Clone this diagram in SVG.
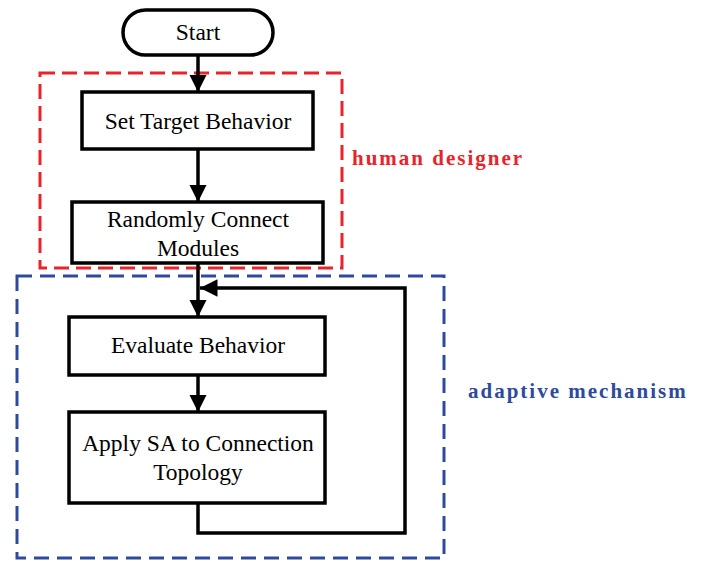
<svg xmlns="http://www.w3.org/2000/svg" width="707" height="562" viewBox="0 0 707 562">
<style>
.box{fill:#fff;stroke:#000;stroke-width:3.5}
.t{font-family:"Liberation Serif","Times New Roman",serif;font-size:23.5px;fill:#000;text-anchor:middle}
.lbl{font-family:"Liberation Serif","Times New Roman",serif;font-size:21px;font-weight:bold;letter-spacing:2px}
.edge{fill:none;stroke:#000;stroke-width:3.5}
</style>
<defs>
<marker id="ah" viewBox="0 0 10 10" refX="10" refY="5" markerWidth="5" markerHeight="5" markerUnits="strokeWidth" orient="auto">
<path d="M0,0 L10,5 L0,10 Z" fill="#000"/>
</marker>
</defs>
<rect width="707" height="562" fill="#fff"/>
<g id="group-human">
<rect x="40" y="73" width="302" height="195" fill="none" stroke="#e8232a" stroke-width="3" stroke-dasharray="15,7"/>
<text class="lbl" x="352" y="165" fill="#e8232a">human designer</text>
</g>
<g id="group-adaptive">
<rect x="17" y="276" width="427" height="282" fill="none" stroke="#2e4a9e" stroke-width="3" stroke-dasharray="15,8"/>
<text class="lbl" x="468" y="398" fill="#2e4a9e">adaptive mechanism</text>
</g>
<g id="connectors">
<line class="edge" x1="198" y1="55" x2="198" y2="92" marker-end="url(#ah)"/>
<line class="edge" x1="198" y1="149" x2="198" y2="202" marker-end="url(#ah)"/>
<line class="edge" x1="198" y1="263" x2="198" y2="317" marker-end="url(#ah)"/>
<line class="edge" x1="198" y1="375" x2="198" y2="412" marker-end="url(#ah)"/>
<polyline class="edge" points="198,503 198,533 405,533 405,288 200,288" marker-end="url(#ah)"/>
</g>
<g id="start">
<rect class="box" x="123" y="10" width="150" height="45" rx="22.5"/>
<text class="t" x="198" y="40">Start</text>
</g>
<g id="set-target">
<rect class="box" x="82" y="92" width="231" height="57"/>
<text class="t" x="198" y="129">Set Target Behavior</text>
</g>
<g id="randomly-connect">
<rect class="box" x="72" y="202" width="251" height="61"/>
<text class="t" x="198" y="227">Randomly Connect</text>
<text class="t" x="198" y="256">Modules</text>
</g>
<g id="evaluate">
<rect class="box" x="69" y="317" width="256" height="58"/>
<text class="t" x="198" y="353">Evaluate Behavior</text>
</g>
<g id="apply-sa">
<rect class="box" x="69" y="412" width="256" height="91"/>
<text class="t" x="198" y="451">Apply SA to Connection</text>
<text class="t" x="198" y="480">Topology</text>
</g>
</svg>
